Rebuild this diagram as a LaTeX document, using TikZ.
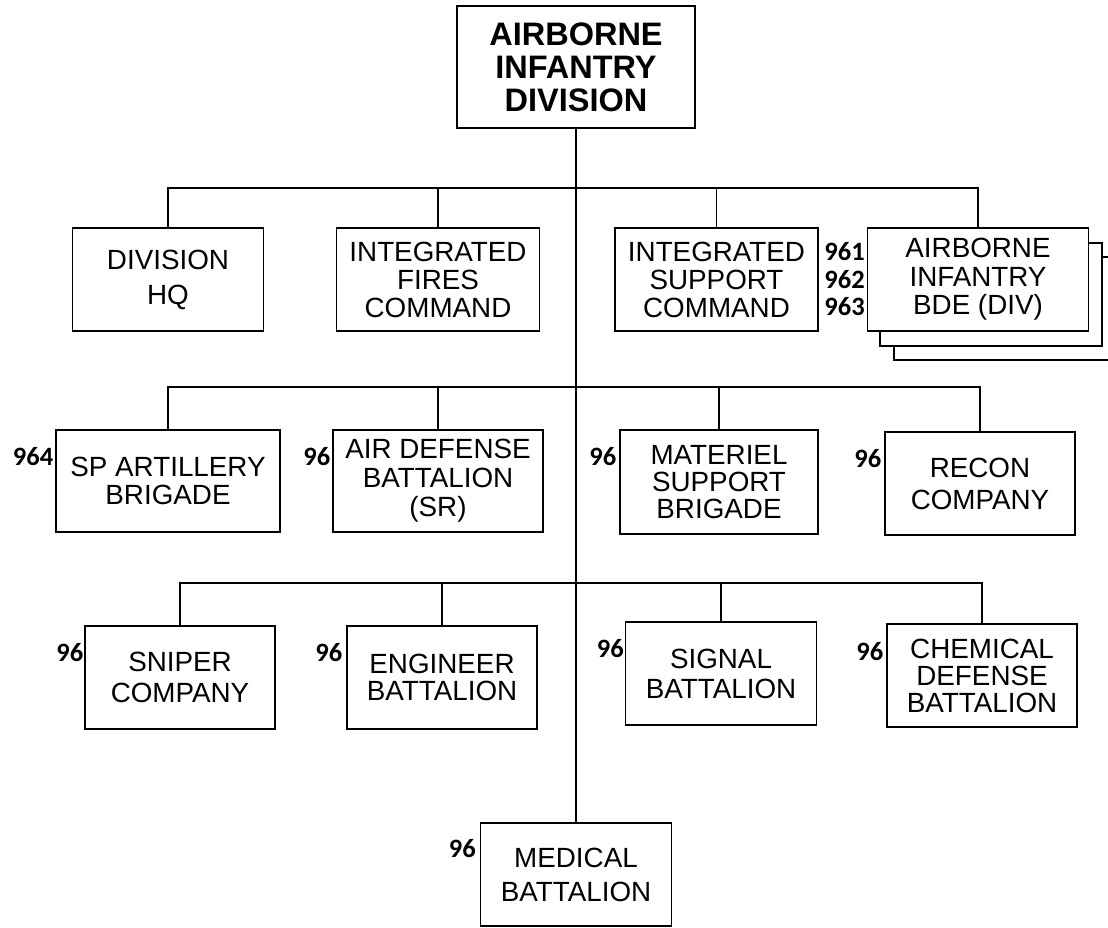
\documentclass[tikz,border=0pt]{standalone}
\usepackage{fontspec}
\setmainfont{Liberation Sans}
\newfontfamily\numfont{Carlito}
\usetikzlibrary{calc}
\tikzset{
  unit/.style={draw, line width=1.1pt, fill=white, inner sep=0pt, align=center,
    text=black, font=\fontsize{27.8}{28}\selectfont, minimum height=103pt},
  lsp/.style={font=\fontsize{27.8}{#1}\selectfont},
  num/.style={font=\numfont\bfseries\fontsize{26.5}{27.5}\selectfont, inner sep=0pt,
    anchor=east, align=right, text=black},
  link/.style={line width=1.1pt, line cap=rect},
}
\begin{document}
\begin{tikzpicture}[x=1pt, y=-1pt]
\useasboundingbox (0,0) rectangle (1108,927);

% top
\node[unit, font=\bfseries\fontsize{32.5}{33}\selectfont, minimum width=238pt, minimum height=122pt] (div) at (576,67) {AIRBORNE\\INFANTRY\\DIVISION};

% row 1
\node[unit, lsp=35, minimum width=191pt] (hq) at (168,279.5) {DIVISION\\HQ};
\node[unit, minimum width=203pt] (ifc) at (438,279.5) {INTEGRATED\\FIRES\\COMMAND};
\node[unit, minimum width=203pt] (isc) at (716.5,279.5) {INTEGRATED\\SUPPORT\\COMMAND};
\draw[line width=1.1pt] (1108,257) -- (894,257) -- (894,360) -- (1108,360);
\node[unit, minimum width=222pt] (bde2) at (991,294.5) {};
\node[unit, lsp=28.5, minimum width=221pt] (bde) at (978,279.5) {AIRBORNE\\INFANTRY\\BDE (DIV)};
\node[num] (bdenum) at ($(bde.west)+(-2,0)$) {961\\962\\963};

% row 2
\node[unit, minimum width=224pt, minimum height=102pt] (sp) at (168,481) {SP ARTILLERY\\BRIGADE};
\node[unit, lsp=29, minimum width=210pt, minimum height=102pt] (ad) at (438,481) {AIR DEFENSE\\BATTALION\\(SR)};
\node[unit, lsp=27, minimum width=198pt, minimum height=104pt] (mat) at (719,482) {MATERIEL\\SUPPORT\\BRIGADE};
\node[unit, lsp=32, minimum width=190pt] (rec) at (980,483.5) {RECON\\COMPANY};

% row 3
\node[unit, lsp=31, minimum width=190pt] (snp) at (180,677.5) {SNIPER\\COMPANY};
\node[unit, lsp=27, minimum width=190pt] (eng) at (442,677.5) {ENGINEER\\BATTALION};
\node[unit, lsp=30, minimum width=191pt] (sig) at (721,673.5) {SIGNAL\\BATTALION};
\node[unit, lsp=27, minimum width=190pt] (chm) at (982,675.5) {CHEMICAL\\DEFENSE\\BATTALION};

% row 4
\node[unit, lsp=34, minimum width=191pt] (med) at (576,874.5) {MEDICAL\\BATTALION};

% numbers
\node[num] (nsp)  at ($(sp.north west)+(-2,27)$) {964};
\node[num] (nad)  at ($(ad.north west)+(-2,27)$) {96};
\node[num] (nmat) at ($(mat.north west)+(-3,27)$) {96};
\node[num] (nrec) at ($(rec.north west)+(-3,27)$) {96};
\node[num] (nsnp) at ($(snp.north west)+(-1,27)$) {96};
\node[num] (neng) at ($(eng.north west)+(-4,27)$) {96};
\node[num] (nsig) at ($(sig.north west)+(-1,27)$) {96};
\node[num] (nchm) at ($(chm.north west)+(-3,28)$) {96};
\node[num] (nmed) at ($(med.north west)+(-4,26)$) {96};

% connectors
\coordinate (b1) at (576,188);
\coordinate (b2) at (576,387);
\coordinate (b3) at (576,583);
\draw[link] (div.south) -- (med.north);
\draw[link] (hq.north) -- (hq.north |- b1) -- (bde.north |- b1) -- (bde.north);
\draw[link] (ifc.north) -- (ifc.north |- b1);
\draw[link] (isc.north) -- (isc.north |- b1);
\draw[link] (sp.north) -- (sp.north |- b2) -- (rec.north |- b2) -- (rec.north);
\draw[link] (ad.north) -- (ad.north |- b2);
\draw[link] (mat.north) -- (mat.north |- b2);
\draw[link] (snp.north) -- (snp.north |- b3) -- (chm.north |- b3) -- (chm.north);
\draw[link] (eng.north) -- (eng.north |- b3);
\draw[link] (sig.north) -- (sig.north |- b3);
\end{tikzpicture}
\end{document}
